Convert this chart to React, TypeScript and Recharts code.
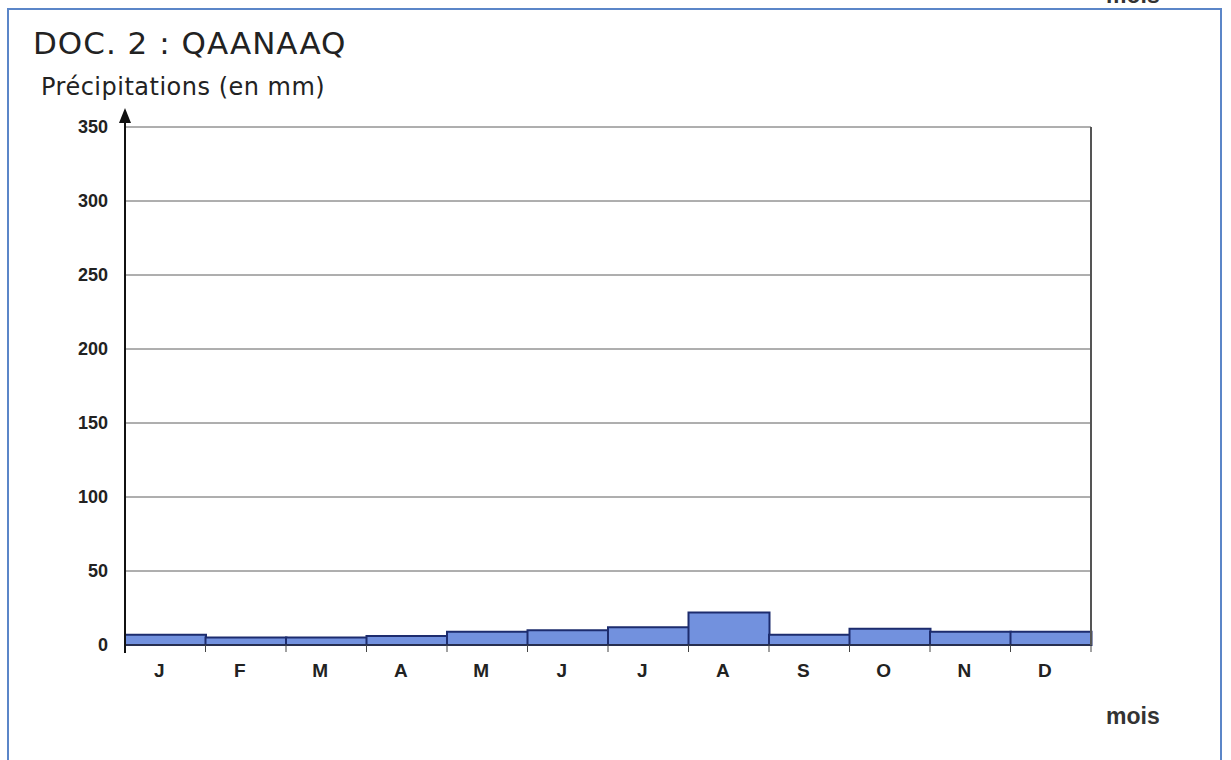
import { Bar, BarChart, CartesianGrid, XAxis, YAxis } from "recharts";

const months = ["J", "F", "M", "A", "M", "J", "J", "A", "S", "O", "N", "D"];
const precipitation = [7, 5, 5, 6, 9, 10, 12, 22, 7, 11, 9, 9];
const yTicks = [0, 50, 100, 150, 200, 250, 300, 350];

const data = months.map((m, i) => ({ key: `${m}-${i}`, month: m, value: precipitation[i] }));

const W = 1231;
const H = 760;
const PLOT_LEFT = 125;
const PLOT_RIGHT = 1091;
const PLOT_TOP = 127;
const PLOT_BOTTOM = 645;
const BAND = (PLOT_RIGHT - PLOT_LEFT) / months.length;

const sans = "'Liberation Sans', Arial, sans-serif";
const hand = "'Comic Sans MS', 'DejaVu Sans', sans-serif";

function MonthTick(props: any) {
  const { x, y, payload, index } = props;
  const last = index === months.length - 1;
  return (
    <g>
      <line x1={x - BAND / 2} x2={x - BAND / 2} y1={y} y2={y + 7} stroke="#444" strokeWidth={1} />
      {last && <line x1={x + BAND / 2} x2={x + BAND / 2} y1={y} y2={y + 7} stroke="#444" strokeWidth={1} />}
      <text x={x - 6} y={y + 32} textAnchor="middle" fontFamily={sans} fontWeight={700} fontSize={19} fill="#222">
        {months[payload.index] ?? payload.value}
      </text>
    </g>
  );
}

export default function App() {
  return (
    <div style={{ position: "absolute", left: 0, top: 0, width: W, height: H, background: "#fff", overflow: "hidden" }}>
      <div
        style={{
          position: "absolute",
          left: 7,
          top: 8,
          width: 1215,
          height: 780,
          border: "2px solid #5b86c8",
          boxSizing: "border-box",
        }}
      />
      <div style={{ position: "absolute", left: 1106, top: -18, fontFamily: sans, fontWeight: 700, fontSize: 23, color: "#333" }}>mois</div>
      <div style={{ position: "absolute", left: 33, top: 25, fontFamily: hand, fontSize: 31, color: "#222", letterSpacing: 1 }}>
        DOC. 2 : QAANAAQ
      </div>
      <div style={{ position: "absolute", left: 41, top: 73, fontFamily: hand, fontSize: 24, color: "#222", letterSpacing: 0.5 }}>
        Précipitations (en mm)
      </div>
      <div style={{ position: "absolute", left: 1106, top: 703, fontFamily: sans, fontWeight: 700, fontSize: 23, color: "#333" }}>mois</div>

      <div style={{ position: "absolute", left: 0, top: 0 }}>
        <BarChart
          width={W}
          height={H}
          data={data}
          barCategoryGap={0}
          margin={{ top: PLOT_TOP, right: W - PLOT_RIGHT - 1, bottom: H - PLOT_BOTTOM - 40, left: PLOT_LEFT - 60 }}
        >
          <CartesianGrid vertical={false} stroke="#5e5e5e" strokeWidth={1} />
          <XAxis
            dataKey="key"
            interval={0}
            height={40}
            tickLine={false}
            tickSize={0}
            tickMargin={0}
            axisLine={{ stroke: "#333", strokeWidth: 1 }}
            tick={<MonthTick />}
          />
          <YAxis
            width={60}
            domain={[0, 350]}
            ticks={yTicks}
            interval={0}
            tickLine={false}
            tickSize={0}
            tickMargin={17}
            axisLine={{ stroke: "#111", strokeWidth: 2 }}
            tick={{ fontFamily: sans, fontWeight: 700, fontSize: 18, fill: "#222" }}
          />
          <YAxis
            yAxisId="right"
            orientation="right"
            width={1}
            domain={[0, 350]}
            tick={false}
            tickLine={false}
            axisLine={{ stroke: "#555", strokeWidth: 2 }}
          />
          <Bar dataKey="value" fill="#7291de" stroke="#1d2c6e" strokeWidth={2} isAnimationActive={false} />
        </BarChart>
      </div>

      <svg style={{ position: "absolute", left: 0, top: 0, pointerEvents: "none" }} width={W} height={H}>
        <line x1={PLOT_LEFT} x2={PLOT_LEFT} y1={PLOT_TOP} y2={118} stroke="#111" strokeWidth={2} />
        <polygon points={`${PLOT_LEFT},108 ${PLOT_LEFT - 6},123 ${PLOT_LEFT + 6},123`} fill="#111" />
        <line x1={PLOT_LEFT} x2={PLOT_LEFT} y1={PLOT_BOTTOM} y2={PLOT_BOTTOM + 8} stroke="#111" strokeWidth={2} />
      </svg>
    </div>
  );
}
